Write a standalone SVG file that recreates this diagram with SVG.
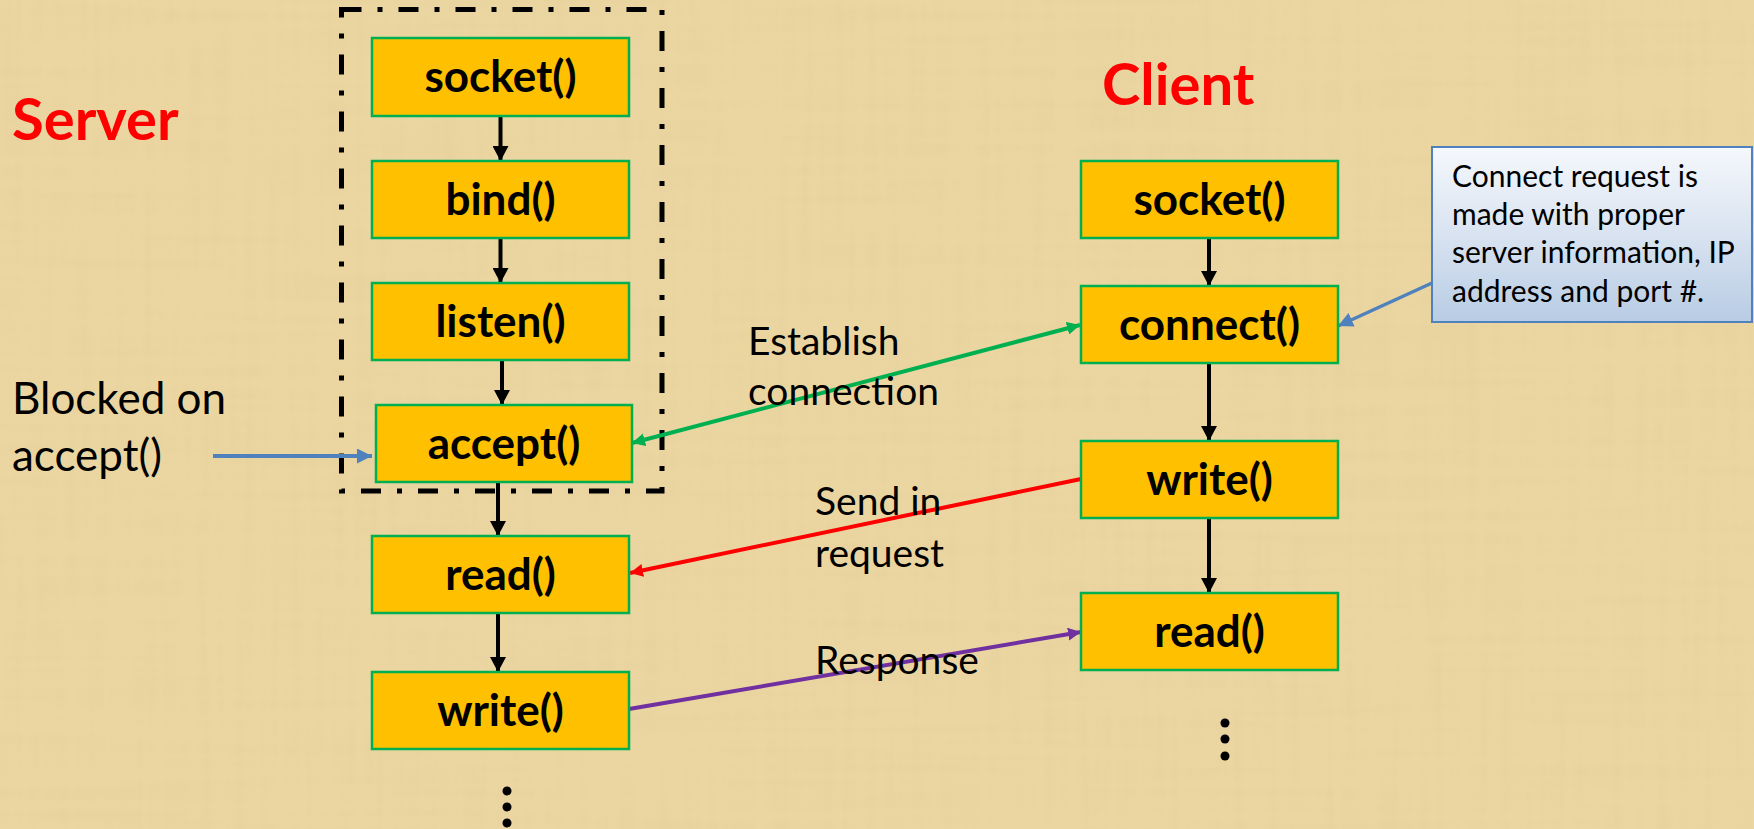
<svg xmlns="http://www.w3.org/2000/svg" width="1754" height="829" viewBox="0 0 1754 829">
<defs>
<style>
.box rect{fill:#ffc000;stroke:#00b050;stroke-width:2.5}
.box text{font-family:Lato,"Liberation Sans",sans-serif;font-weight:bold;font-size:44px;fill:#000;text-anchor:middle}
.lbl{font-family:Lato,"Liberation Sans",sans-serif;font-size:39px;fill:#000}
.title{font-family:Lato,"Liberation Sans",sans-serif;font-weight:bold;font-size:58px;fill:#ff0000}
.blk{stroke:#000;stroke-width:4;fill:none}
.dot{fill:#000}
</style>
<marker id="hb" markerUnits="userSpaceOnUse" markerWidth="16" markerHeight="16" refX="15" refY="8" orient="auto"><path d="M0,0 L15,8 L0,16 z" fill="#000"/></marker>
<marker id="hg" markerUnits="userSpaceOnUse" markerWidth="14" markerHeight="13" refX="13" refY="6.5" orient="auto-start-reverse"><path d="M0,0 L13,6.5 L0,13 z" fill="#00b050"/></marker>
<marker id="hr" markerUnits="userSpaceOnUse" markerWidth="14" markerHeight="13" refX="13" refY="6.5" orient="auto"><path d="M0,0 L13,6.5 L0,13 z" fill="#ff0000"/></marker>
<marker id="hp" markerUnits="userSpaceOnUse" markerWidth="14" markerHeight="13" refX="13" refY="6.5" orient="auto"><path d="M0,0 L13,6.5 L0,13 z" fill="#7030a0"/></marker>
<marker id="hbl" markerUnits="userSpaceOnUse" markerWidth="16" markerHeight="15" refX="15" refY="7.5" orient="auto"><path d="M0,0 L15,7.5 L0,15 z" fill="#4f81bd"/></marker>
<linearGradient id="cg" x1="0" y1="0" x2="0" y2="1">
<stop offset="0" stop-color="#f5f8fc"/>
<stop offset="0.5" stop-color="#d9e3f1"/>
<stop offset="1" stop-color="#b8cce4"/>
</linearGradient>
<filter id="paper" x="0" y="0" width="100%" height="100%">
<feTurbulence type="fractalNoise" baseFrequency="0.004 0.09" numOctaves="2" seed="3" result="n1"/>
<feTurbulence type="fractalNoise" baseFrequency="0.09 0.004" numOctaves="2" seed="8" result="n2"/>
<feComposite in="n1" in2="n2" operator="arithmetic" k1="0" k2="0.5" k3="0.5" k4="0" result="n"/>
<feColorMatrix in="n" type="matrix" values="0 0 0 0 0.72  0 0 0 0 0.58  0 0 0 0 0.3  1.6 0 0 0 -0.7"/>
</filter>
</defs>

<g id="background">
<rect x="0" y="0" width="1754" height="829" fill="#ebd6a2"/>
<rect x="0" y="0" width="1754" height="829" filter="url(#paper)" opacity="0.45"/>
</g>

<g id="titles">
<text class="title" x="12" y="140">Server</text>
<text class="title" x="1102" y="105">Client</text>
</g>

<g id="server-group-frame">
<rect x="341.5" y="9.5" width="320.5" height="481.5" fill="none" stroke="#000" stroke-width="5" stroke-dasharray="20 16 5 16"/>
</g>

<g id="connectors">
<line class="blk" x1="500.5" y1="116" x2="500.5" y2="161" marker-end="url(#hb)"/>
<line class="blk" x1="500.5" y1="238" x2="500.5" y2="283" marker-end="url(#hb)"/>
<line class="blk" x1="502" y1="360" x2="502" y2="405" marker-end="url(#hb)"/>
<line class="blk" x1="498" y1="482" x2="498" y2="536" marker-end="url(#hb)"/>
<line class="blk" x1="498" y1="613" x2="498" y2="672" marker-end="url(#hb)"/>
<line class="blk" x1="1209" y1="238" x2="1209" y2="286" marker-end="url(#hb)"/>
<line class="blk" x1="1209" y1="363" x2="1209" y2="441" marker-end="url(#hb)"/>
<line class="blk" x1="1209" y1="518" x2="1209" y2="593" marker-end="url(#hb)"/>
<line x1="213" y1="456" x2="372" y2="456" stroke="#4f81bd" stroke-width="4" marker-end="url(#hbl)"/>
<line x1="632" y1="443" x2="1080" y2="325" stroke="#00b050" stroke-width="4" marker-start="url(#hg)" marker-end="url(#hg)"/>
<line x1="1081" y1="479" x2="630" y2="573" stroke="#ff0000" stroke-width="4" marker-end="url(#hr)"/>
<line x1="629" y1="709" x2="1081" y2="632" stroke="#7030a0" stroke-width="4" marker-end="url(#hp)"/>
<line x1="1432" y1="283" x2="1338" y2="326" stroke="#4f81bd" stroke-width="3.5" marker-end="url(#hbl)"/>
</g>

<g id="s-socket" class="box"><rect x="372" y="38" width="257" height="78"/><text x="500.5" y="92">socket()</text></g>
<g id="s-bind" class="box"><rect x="372" y="161" width="257" height="77"/><text x="500.5" y="214.5">bind()</text></g>
<g id="s-listen" class="box"><rect x="372" y="283" width="257" height="77"/><text x="500.5" y="336.5">listen()</text></g>
<g id="s-accept" class="box"><rect x="376" y="405" width="256" height="77"/><text x="504" y="458.5">accept()</text></g>
<g id="s-read" class="box"><rect x="372" y="536" width="257" height="77"/><text x="500.5" y="589.5">read()</text></g>
<g id="s-write" class="box"><rect x="372" y="672" width="257" height="77"/><text x="500.5" y="725.5">write()</text></g>

<g id="c-socket" class="box"><rect x="1081" y="161" width="257" height="77"/><text x="1209.5" y="214.5">socket()</text></g>
<g id="c-connect" class="box"><rect x="1081" y="286" width="257" height="77"/><text x="1209.5" y="339.5">connect()</text></g>
<g id="c-write" class="box"><rect x="1081" y="441" width="257" height="77"/><text x="1209.5" y="494.5">write()</text></g>
<g id="c-read" class="box"><rect x="1081" y="593" width="257" height="77"/><text x="1209.5" y="646.5">read()</text></g>

<g id="callout">
<rect x="1432" y="147" width="320" height="175" fill="url(#cg)" stroke="#4f81bd" stroke-width="2"/>
<text font-family="Lato,'Liberation Sans',sans-serif" font-size="30" fill="#000">
<tspan x="1452" y="186.5">Connect request is</tspan>
<tspan x="1452" y="224.9">made with proper</tspan>
<tspan x="1452" y="263.3">server information, IP</tspan>
<tspan x="1452" y="301.7">address and port #.</tspan>
</text>
</g>

<g id="labels">
<text class="lbl" font-size="44" x="12" y="414" style="font-size:44px">Blocked on</text>
<text class="lbl" x="12" y="471" style="font-size:44px">accept()</text>
<text class="lbl" x="748" y="355">Establish</text>
<text class="lbl" x="748" y="405">connection</text>
<text class="lbl" x="815" y="515">Send in</text>
<text class="lbl" x="815" y="567">request</text>
<text class="lbl" x="815" y="674">Response</text>
</g>

<g id="ellipsis">
<circle class="dot" cx="507" cy="791" r="4.5"/>
<circle class="dot" cx="507" cy="807" r="4.5"/>
<circle class="dot" cx="507" cy="823" r="4.5"/>
<circle class="dot" cx="1225" cy="723" r="4.5"/>
<circle class="dot" cx="1225" cy="739" r="4.5"/>
<circle class="dot" cx="1225" cy="756" r="4.5"/>
</g>
</svg>
